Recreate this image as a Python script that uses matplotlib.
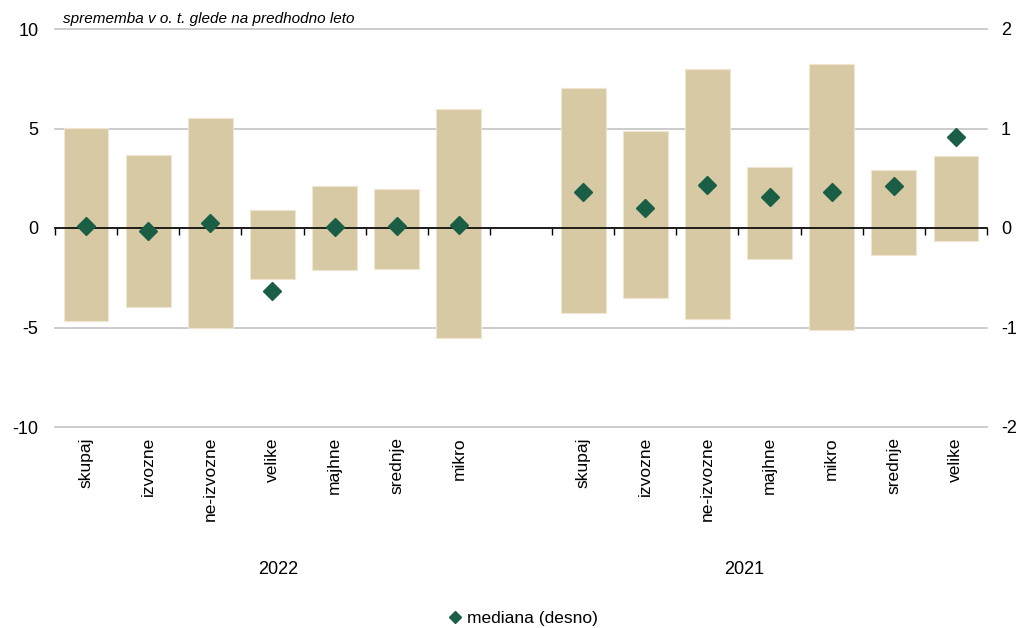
import matplotlib
matplotlib.use("Agg")
import matplotlib.pyplot as plt
import matplotlib.transforms as mtransforms
from matplotlib.lines import Line2D
import numpy as np

plt.rcParams['font.family'] = ['Liberation Sans', 'DejaVu Sans']

categories_2022 = ["skupaj", "izvozne", "ne-izvozne", "velike", "majhne", "srednje", "mikro"]
categories_2021 = ["skupaj", "izvozne", "ne-izvozne", "majhne", "mikro", "srednje", "velike"]
groups = ["2022", "2021"]

max_2022 = [5.0, 3.65, 5.55, 0.92, 2.12, 1.96, 5.97]
min_2022 = [-4.69, -3.95, -5.01, -2.57, -2.10, -2.05, -5.53]
median_2022 = [0.02, -0.03, 0.05, -0.63, 0.015, 0.02, 0.03]

max_2021 = [7.06, 4.89, 7.99, 3.09, 8.25, 2.90, 3.60]
min_2021 = [-4.28, -3.54, -4.59, -1.57, -5.14, -1.36, -0.66]
median_2021 = [0.36, 0.20, 0.43, 0.31, 0.36, 0.42, 0.91]

left_ticks = [-10, -5, 0, 5, 10]
right_ticks = [-2, -1, 0, 1, 2]
title_text = "sprememba v o. t. glede na predhodno leto"
legend_label = "mediana (desno)"

bar_color = "#D8C9A5"
marker_color = "#1B5E46"

labels = categories_2022 + [""] + categories_2021
n = len(labels)
x_2022 = np.arange(len(categories_2022))
x_2021 = np.arange(len(categories_2021)) + len(categories_2022) + 1

fig = plt.figure(figsize=(10.25, 6.28), dpi=100)
ax = fig.add_axes([55/1025, 1-427/628, (987-55)/1025, (427-29)/628])

for xs, lo, hi in [(x_2022, min_2022, max_2022), (x_2021, min_2021, max_2021)]:
    lo = np.array(lo); hi = np.array(hi)
    ax.bar(xs, hi - lo, bottom=lo, width=0.72, color=bar_color,
           edgecolor="#EFE6D2", linewidth=0.8, zorder=2)

ax.set_xlim(-0.5, n - 0.5)
ax.set_ylim(-10, 10)
ax.set_yticks(left_ticks)
ax.set_yticklabels([str(t) for t in left_ticks], fontsize=13)
ax.yaxis.grid(True, color="#BFBFBF", linewidth=1.1)
for gl in ax.yaxis.get_gridlines():
    gl.set_clip_on(False)
ax.set_axisbelow(True)
for s in ["top", "right", "left"]:
    ax.spines[s].set_visible(False)
ax.spines["bottom"].set_position(("data", 0))
ax.spines["bottom"].set_color("black")
ax.spines["bottom"].set_linewidth(1.2)
ax.spines["bottom"].set_zorder(3)
ax.set_xticks([])
ax.set_xticks(np.arange(n + 1) - 0.5, minor=True)
ax.tick_params(axis="x", which="minor", length=5, direction="out", width=1, color="black")
ax.tick_params(axis="y", length=0, pad=12)

trans = mtransforms.blended_transform_factory(ax.transData, fig.transFigure)
for i, lab in enumerate(labels):
    if lab:
        ax.text(i, 1 - 437/628, lab, rotation=90, ha="center", va="top",
                fontsize=12.5, transform=trans)

fig.text(278/1025, 1 - 570/628, groups[0], ha="center", va="center", fontsize=13)
fig.text(744/1025, 1 - 570/628, groups[1], ha="center", va="center", fontsize=13)

ax2 = ax.twinx()
ax2.set_ylim(-2, 2)
ax2.set_yticks(right_ticks)
ax2.set_yticklabels([str(t) for t in right_ticks], fontsize=13)
for s in ax2.spines.values():
    s.set_visible(False)
ax2.tick_params(axis="y", length=0, pad=10)
ax2.plot(x_2022, median_2022, linestyle="none", marker="D", markersize=9,
         color=marker_color, zorder=4)
ax2.plot(x_2021, median_2021, linestyle="none", marker="D", markersize=9,
         color=marker_color, zorder=4)

ax.text(63/1025, 1 - 19/628, title_text, transform=fig.transFigure,
        fontsize=11, style="italic", ha="left", va="center")

handle = Line2D([], [], linestyle="none", marker="D", markersize=6, color=marker_color)
fig.legend([handle], [legend_label], loc="center", bbox_to_anchor=(522/1025, 1 - 618/628),
           frameon=False, fontsize=12.5, handletextpad=0.2, handlelength=1.0)

fig.savefig("out.png", dpi=100)
